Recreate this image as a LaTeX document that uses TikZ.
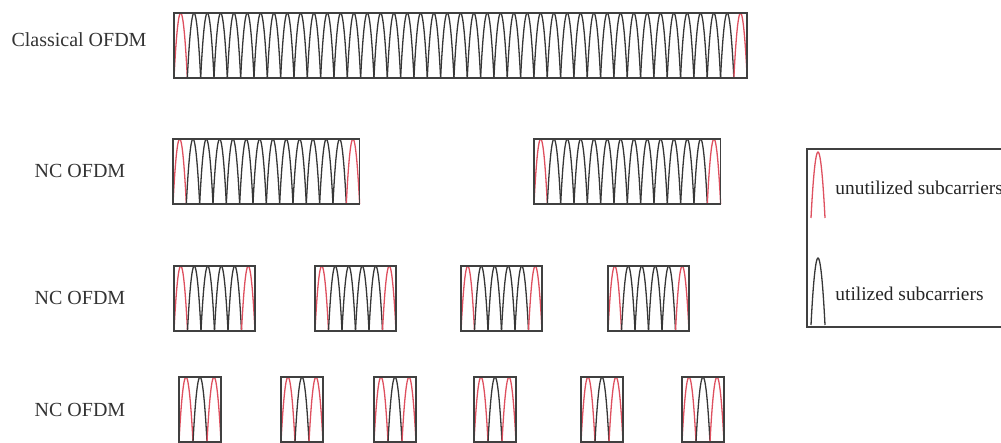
\documentclass[tikz,border=0pt]{standalone}
\usepackage{fontspec}
\setmainfont{Liberation Serif}
\usepackage{tikz}
\usetikzlibrary{positioning, calc}

\definecolor{subred}{RGB}{222,80,95}
\definecolor{subgray}{RGB}{55,55,55}

% one band of subcarriers: x, top y, number of lobes, lobe width
\newcommand{\ofdmband}[4]{%
  \foreach \k in {1,...,#3}{
    \pgfmathsetmacro{\xa}{#1+(\k-1)*#4}
    \pgfmathsetmacro{\xm}{\xa+#4/2}
    \pgfmathsetmacro{\xb}{\xa+#4}
    \ifnum\k=1 \def\lobecol{subred}\else\ifnum\k=#3 \def\lobecol{subred}\else\def\lobecol{subgray}\fi\fi
    \draw[lobe, draw=\lobecol] (\xa,#2+65) parabola bend (\xm,#2) (\xb,#2+65);
  }
  \draw[band] (#1,#2) rectangle ++(#3*#4,65);
}

\begin{document}
\begin{tikzpicture}[
        x=0.5pt, y=-0.5pt,
        band/.style={draw=black!75, line width=0.75pt},
        lobe/.style={line width=0.65pt},
        rowlabel/.style={font=\fontsize{10}{12}\selectfont, text=black!80, inner sep=0pt},
        legtext/.style={font=\fontsize{9.7}{12}\selectfont, text=black!85, anchor=west, inner sep=0pt}
    ]
    \useasboundingbox (0,0) rectangle (1001,443);
    \clip (0,0) rectangle (1001,443);

    % --- CLASSICAL OFDM ---
    \node (lbl1) [rowlabel] at (79,40) {Classical OFDM};
    \ofdmband{174}{13}{43}{13.33}

    % --- NC OFDM (2 bands) ---
    \node (lbl2) [rowlabel] at (80,171) {NC OFDM};
    \foreach \x in {173,534} {\ofdmband{\x}{139}{14}{13.33}}

    % --- NC OFDM (4 bands) ---
    \node (lbl3) [rowlabel] at (80,298) {NC OFDM};
    \foreach \x in {174,315,461,608} {\ofdmband{\x}{266}{6}{13.5}}

    % --- NC OFDM (6 bands) ---
    \node (lbl4) [rowlabel] at (80,410) {NC OFDM};
    \foreach \x in {179,281,374,474,581,682} {\ofdmband{\x}{377}{3}{14}}

    % --- LEGEND ---
    \draw[band] (807,149) rectangle (1020,327);
    \draw[lobe, draw=subred] (811,218) parabola bend (818,152) (825,218);
    \draw[lobe, draw=subgray] (811,325) parabola bend (818,258) (825,325);
    \node (leg1) [legtext] at (835,188) {unutilized subcarriers};
    \node (leg2) [legtext] at (835,294) {utilized subcarriers};

\end{tikzpicture}
\end{document}
